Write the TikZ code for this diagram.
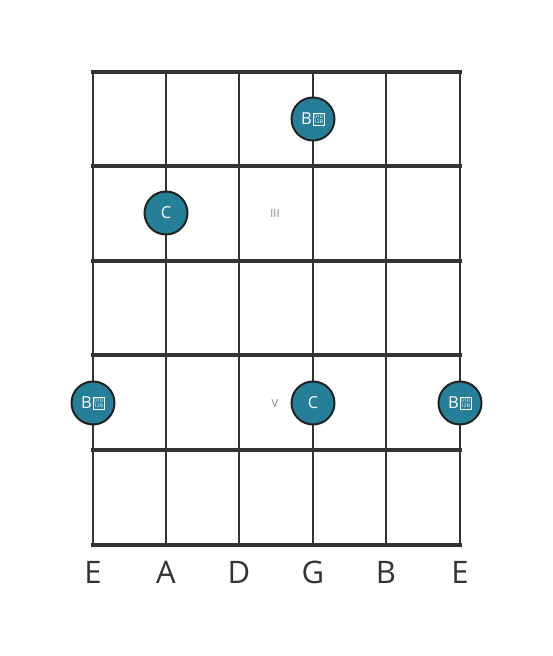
\documentclass[tikz,border=0pt]{standalone}
\usepackage{fontspec}
\setmainfont{Open Sans}
\definecolor{dotfill}{RGB}{38,127,153}
\definecolor{ink}{RGB}{51,51,51}
\definecolor{rim}{RGB}{34,34,34}
\newcommand\missglyph{\hspace{0.8pt}\raisebox{0.9pt}{\setlength\fboxsep{0.9pt}\setlength\fboxrule{0.45pt}\fbox{\fontsize{5}{5}\selectfont\vbox{\baselineskip=5.7pt\lineskiplimit=-5pt\hbox{01D}\hbox{12B}}}}}
\tikzset{
  fret/.style={line width=4pt, draw=ink},
  gstring/.style={line width=2.5pt, draw=ink},
  notedot/.style={circle, minimum size=43pt, inner sep=0pt, fill=dotfill, draw=rim, line width=2pt, text=white, font=\fontsize{16.5}{16.5}\selectfont},
  posmark/.style={text=gray, font=\fontsize{11}{11}\selectfont},
  strlabel/.style={text=ink, font=\fontsize{31}{31}\selectfont, anchor=base}
}
\begin{document}
\begin{tikzpicture}[x=1pt,y=1pt]
\useasboundingbox (0,0) rectangle (553,656);
\foreach \x in {93,166,239,313,386,460} {
  \draw[gstring] (\x,584) -- (\x,111);
}
\foreach \y in {584,490,395,301,206,111} {
  \draw[fret] (91,\y) -- (462,\y);
}
\node[posmark] (p3) at (275,442) {III};
\node[posmark] (p5) at (275,252) {V};
\node[notedot] (n1) at (313,537) {B\missglyph};
\node[notedot] (n2) at (166,443) {C};
\node[notedot] (n3) at (93,253) {B\missglyph};
\node[notedot] (n4) at (313,253) {C};
\node[notedot] (n5) at (460,253) {B\missglyph};
\node[strlabel] (s1) at (93,72) {E};
\node[strlabel] (s2) at (166,72) {A};
\node[strlabel] (s3) at (239,72) {D};
\node[strlabel] (s4) at (313,72) {G};
\node[strlabel] (s5) at (386,72) {B};
\node[strlabel] (s6) at (460,72) {E};
\end{tikzpicture}
\end{document}
